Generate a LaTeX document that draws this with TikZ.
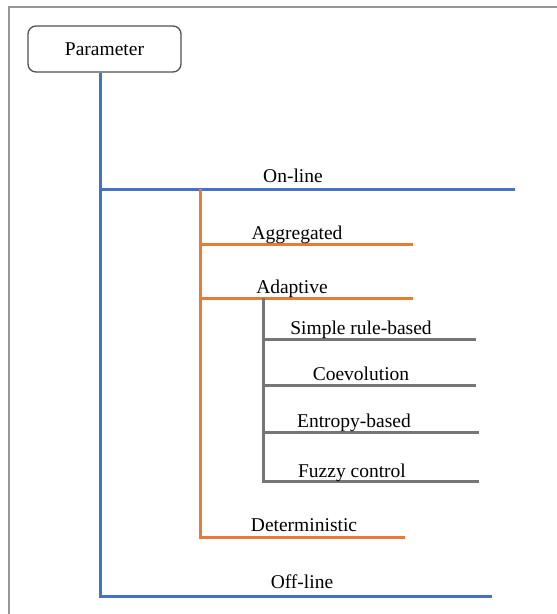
\documentclass[tikz,border=0pt]{standalone}
\usepackage{fontspec}
\setmainfont{Liberation Serif}
\definecolor{lvlone}{RGB}{68,114,196}
\definecolor{lvltwo}{RGB}{232,124,52}
\definecolor{lvlthree}{RGB}{118,118,118}
\definecolor{framegray}{RGB}{150,150,150}
\definecolor{boxgray}{RGB}{80,80,80}
\begin{document}
\begin{tikzpicture}[x=1pt,y=-1pt,
  lbl/.style={anchor=base,inner sep=0pt,font=\fontsize{19.5}{22}\selectfont},
  blueline/.style={draw=lvlone,line width=3pt},
  orangeline/.style={draw=lvltwo,line width=3pt},
  grayline/.style={draw=lvlthree,line width=3pt},
  rootbox/.style={draw=boxgray,line width=1.3pt,rounded corners=8pt,
    minimum width=153pt,minimum height=46pt,inner sep=0pt,font=\fontsize{19.5}{22}\selectfont}]
\useasboundingbox (0,0) rectangle (557,614);
\fill[white] (0,0) rectangle (557,614);
% page frame: top and left edges only
\draw[line width=1.5pt,framegray] (9,614) -- (9,7) -- (557,7);

% root
\node[rootbox] (param) at (104.5,49) {Parameter};

% branch points and line ends
\coordinate (onJ) at (100,189);   \coordinate (onE) at (515,189);
\coordinate (offJ) at (100,596);  \coordinate (offE) at (492,596);
\coordinate (agJ) at (200,244);   \coordinate (agE) at (413,244);
\coordinate (adJ) at (200,298);   \coordinate (adE) at (413,298);
\coordinate (deJ) at (200,537);   \coordinate (deE) at (405,537);
\coordinate (srJ) at (263,339);   \coordinate (srE) at (476,339);
\coordinate (coJ) at (263,385);   \coordinate (coE) at (476,385);
\coordinate (enJ) at (263,432);   \coordinate (enE) at (479,432);
\coordinate (fuJ) at (263,481);   \coordinate (fuE) at (479,481);
\coordinate (orTop) at (200,189);
\coordinate (grTop) at (263,298);

% level 1 (blue)
\draw[blueline] (param.south -| onJ) -- (offJ) -- (offE);
\draw[blueline] (onJ) -- (onE);
% level 2 (orange)
\draw[orangeline] (orTop) -- (deJ) -- (deE);
\draw[orangeline] (agJ) -- (agE);
\draw[orangeline] (adJ) -- (adE);
% level 3 (gray)
\draw[grayline] (grTop) -- (fuJ) -- (fuE);
\draw[grayline] (srJ) -- (srE);
\draw[grayline] (coJ) -- (coE);
\draw[grayline] (enJ) -- (enE);

% labels
\node[lbl] (on)  at (293,182) {On-line};
\node[lbl] (off) at (302,588) {Off-line};
\node[lbl] (ag)  at (297,239) {Aggregated};
\node[lbl] (ad)  at (292,293) {Adaptive};
\node[lbl] (de)  at (304,531) {Deterministic};
\node[lbl] (sr)  at (361,334) {Simple rule-based};
\node[lbl] (co)  at (361,380) {Coevolution};
\node[lbl] (en)  at (354,427) {Entropy-based};
\node[lbl] (fu)  at (352,477) {Fuzzy control};
\end{tikzpicture}
\end{document}
